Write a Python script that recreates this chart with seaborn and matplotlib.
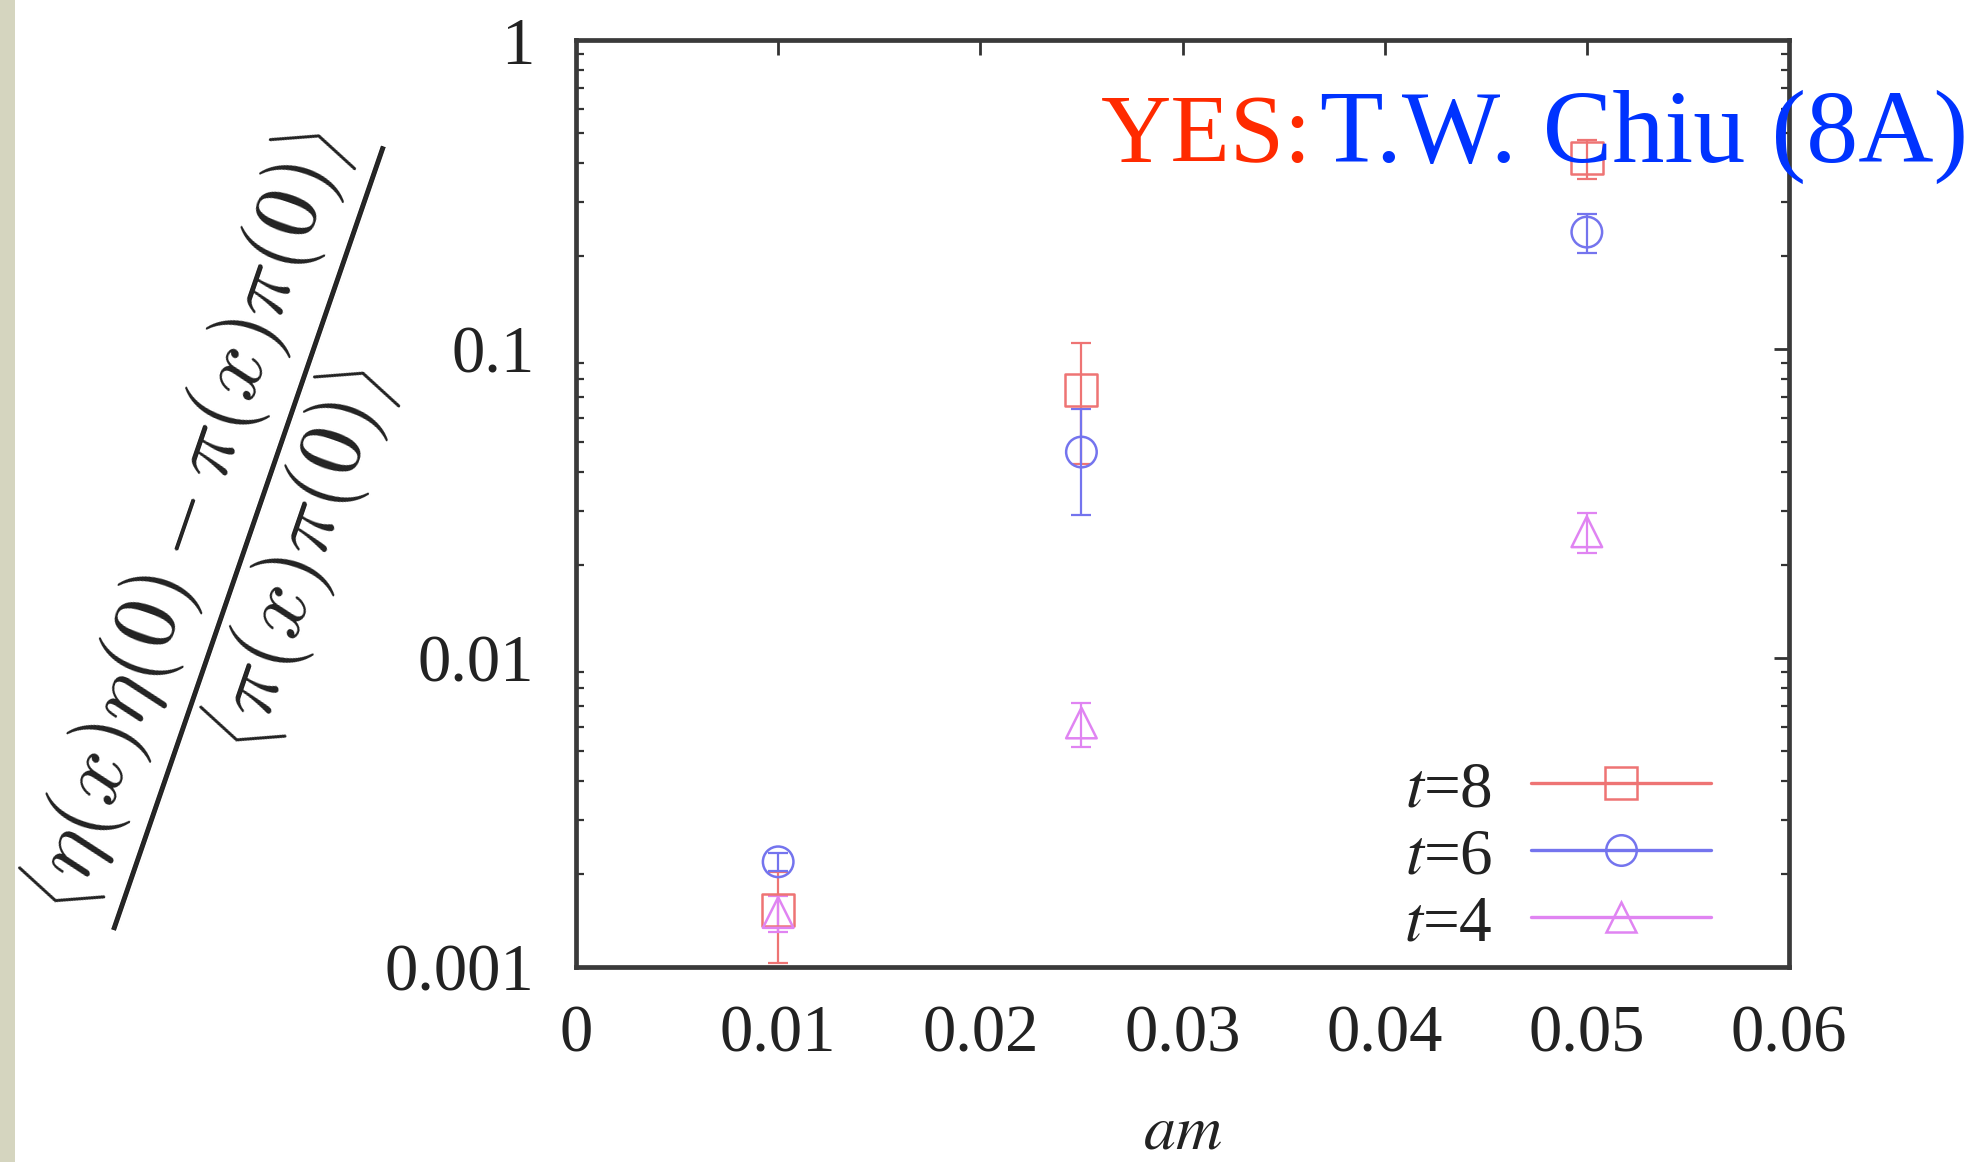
import numpy as np
import pandas as pd
import matplotlib
matplotlib.use("Agg")
import matplotlib.pyplot as plt
from matplotlib.lines import Line2D
from matplotlib.patches import Rectangle
from matplotlib.ticker import FixedLocator, LogLocator, NullFormatter
import seaborn as sns

# ---- data -------------------------------------------------------------
am = [0.01, 0.025, 0.05]
series_labels = ["$t$=8", "$t$=6", "$t$=4"]
ratio_t8 = [0.00153, 0.0736, 0.415]
err_t8 = [0.0005, 0.031, 0.06]
ratio_t6 = [0.00219, 0.0464, 0.239]
err_t6 = [0.00015, 0.0174, 0.035]
ratio_t4 = [0.00150, 0.00616, 0.0256]
err_t4 = [0.0002, 0.001, 0.0038]

x_ticks = [0.0, 0.01, 0.02, 0.03, 0.04, 0.05, 0.06]
x_tick_labels = ["0", "0.01", "0.02", "0.03", "0.04", "0.05", "0.06"]
y_ticks = [0.001, 0.01, 0.1, 1.0]
y_tick_labels = ["0.001", "0.01", "0.1", "1"]

# ---- style ------------------------------------------------------------
sns.set_theme(style="white")
plt.rcParams["font.family"] = ["Liberation Serif", "DejaVu Serif"]
plt.rcParams["axes.unicode_minus"] = False

colors = ["#ee7474", "#7474ee", "#e084f2"]
markers = ["s", "o", "^"]
msizes = [23, 22, 22]

frames = []
for lab, vals, errs in [(series_labels[0], ratio_t8, err_t8),
                        (series_labels[1], ratio_t6, err_t6),
                        (series_labels[2], ratio_t4, err_t4)]:
    frames.append(pd.DataFrame({"am": am, "ratio": vals, "err": errs, "series": lab}))
df = pd.concat(frames, ignore_index=True)

fig = plt.figure(figsize=(19.84, 11.62), dpi=100)
fig.patch.set_facecolor("white")
fig.patches.append(Rectangle((0, 0), 15 / 1984, 1, transform=fig.transFigure,
                             facecolor="#d5d5bf", edgecolor="none", zorder=0))

ax = fig.add_axes([576 / 1984, 1 - 967 / 1162, (1789 - 576) / 1984, (967 - 40) / 1162])
ax.set_yscale("log")

for lab, c, m, ms in zip(series_labels, colors, markers, msizes):
    d = df[df["series"] == lab]
    ax.errorbar(d["am"], d["ratio"], yerr=d["err"], fmt="none", ecolor=c,
                elinewidth=1.6, capsize=7, capthick=1.6, zorder=2)
    sns.scatterplot(data=d, x="am", y="ratio", ax=ax, marker=m, s=ms ** 2,
                    color=c, facecolor="none", edgecolor=c, linewidth=1.8,
                    legend=False, zorder=3)

ax.set_xlim(0, 0.06)
ax.set_ylim(0.001, 1)

ax.xaxis.set_major_locator(FixedLocator(x_ticks))
ax.set_xticklabels(x_tick_labels)
ax.yaxis.set_major_locator(FixedLocator(y_ticks))
ax.set_yticklabels(y_tick_labels)
ax.yaxis.set_minor_locator(LogLocator(base=10, subs=np.arange(2, 10)))
ax.yaxis.set_minor_formatter(NullFormatter())

ax.tick_params(axis="both", which="major", direction="in", length=11, width=2,
               color="#333333", top=True, right=True, labelsize=48,
               labelcolor="#222222")
ax.tick_params(axis="x", which="major", pad=27)
ax.tick_params(axis="y", which="major", pad=30)
ax.tick_params(axis="y", which="minor", direction="in", length=6, width=1.6,
               color="#333333", left=True, right=True)
for s in ax.spines.values():
    s.set_linewidth(3.4)
    s.set_color("#3a3a3a")
ax.grid(False)

ax.set_xlabel("$am$", fontsize=46, math_fontfamily="stix", color="#222222")
ax.xaxis.set_label_coords(0.5, -0.148)

ax.set_ylabel(r"$\dfrac{\left\langle\eta(x)\eta(0)-\pi(x)\pi(0)\right\rangle}"
              r"{\left\langle\pi(x)\pi(0)\right\rangle}$",
              fontsize=64, rotation=71, math_fontfamily="cm", color="#222222",
              va="center", ha="center")
ax.yaxis.set_label_coords(-0.273, 0.464)

handles = [Line2D([], [], color=c, marker=m, markersize=ms, markerfacecolor="none",
                  markeredgecolor=c, markeredgewidth=1.8, linewidth=2.4)
           for c, m, ms in zip(colors, markers, msizes)]
leg = ax.legend(handles, series_labels, loc="lower right",
                bbox_to_anchor=(0.9357, 0.014), frameon=False, markerfirst=False,
                fontsize=47, handlelength=2.75, handletextpad=0.6,
                labelspacing=0.11, borderpad=0, borderaxespad=0)
for t in leg.get_texts():
    t.set_math_fontfamily("stix")
    t.set_color("#222222")

fig.text(1101 / 1984, 1 - 162 / 1162, "YES:", color="#ff2a00", fontsize=70,
         va="baseline", ha="left")
fig.text(1320 / 1984, 1 - 162 / 1162, "T.W. Chiu (8A)", color="#0033ff",
         fontsize=75, va="baseline", ha="left")

fig.savefig("out.png", dpi=100)
